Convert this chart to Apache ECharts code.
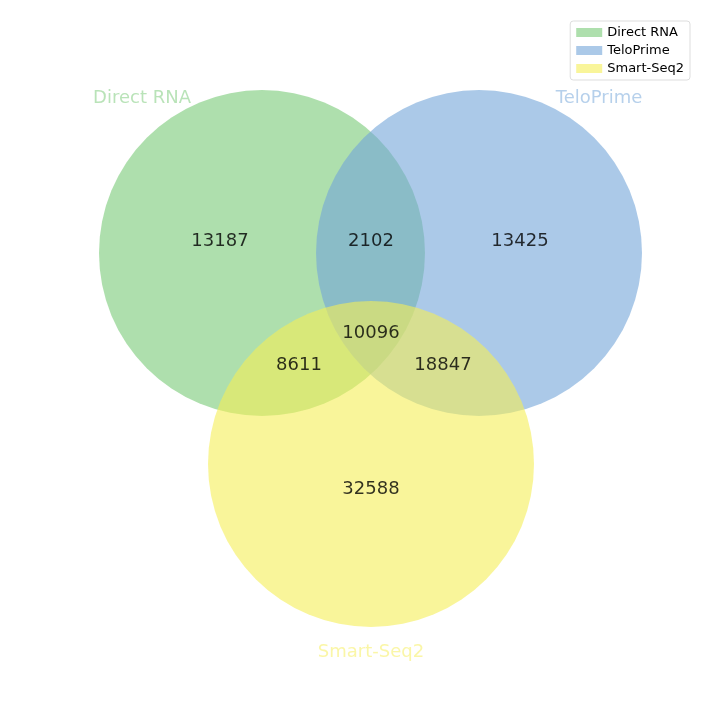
<!DOCTYPE html>
<html>
<head>
<meta charset="utf-8">
<script src="https://cdn.jsdelivr.net/npm/echarts@6/dist/echarts.min.js"></script>
<style>html,body{margin:0;padding:0;background:#fff}#chart{width:717px;height:703px}</style>
</head>
<body>
<div id="chart"></div>
<script>
// sets and their circles (layout units = 717x703 canvas)
const setNames = ["Direct RNA", "TeloPrime", "Smart-Seq2"];
const setColors = ["rgba(120,202,118,0.6)", "rgba(115,165,217,0.6)", "rgba(245,238,87,0.6)"];
const circleCenters = [[262, 253], [479, 253], [371, 464]];
const circleRadius = [163, 163, 163];
const setLabelPos = [[142, 98], [599, 98], [371, 652]];
// region counts
const regionCounts = [13187, 2102, 13425, 10096, 8611, 18847, 32588];
const regionPos = [[220, 241], [371, 241], [520, 241], [371, 333], [299, 365], [443, 365], [371, 489]];

const chart = echarts.init(document.getElementById("chart"));
chart.setOption({
  animation: false,
  grid: { left: 0, right: 0, top: 0, bottom: 0 },
  xAxis: { type: "value", min: 0, max: 717, show: false },
  yAxis: { type: "value", min: 0, max: 703, inverse: true, show: false },
  legend: {
    right: 27, top: 21, orient: "vertical", itemGap: 5,
    itemWidth: 26, itemHeight: 9, icon: "rect",
    borderColor: "#ddd", borderWidth: 1, borderRadius: 3, padding: [5, 6],
    textStyle: { fontSize: 13, color: "#000", fontFamily: "DejaVu Sans" },
    data: setNames
  },
  series: setNames.map((name, i) => ({
    name: name,
    type: "custom",
    itemStyle: { color: setColors[i] },
    data: [[circleCenters[i][0], circleCenters[i][1], circleRadius[i]]],
    renderItem: function (params, api) {
      const c = api.coord([api.value(0), api.value(1)]);
      const r = api.size([api.value(2), 0])[0];
      return { type: "circle", shape: { cx: c[0], cy: c[1], r: r }, style: { fill: setColors[i] } };
    }
  })).concat([{
    type: "scatter",
    symbolSize: 0,
    silent: true,
    data: regionPos.map((p, i) => ({ value: p, label: { formatter: String(regionCounts[i]) } })),
    label: { show: true, position: "inside", fontSize: 18, color: "#000", fontFamily: "DejaVu Sans" }
  }, {
    type: "scatter",
    symbolSize: 0,
    silent: true,
    data: setLabelPos.map((p, i) => ({
      value: p,
      label: { formatter: setNames[i], color: setColors[i].replace("0.6", "0.65") }
    })),
    label: { show: true, position: "inside", fontSize: 18, fontFamily: "DejaVu Sans" }
  }])
});
</script>
</body>
</html>
